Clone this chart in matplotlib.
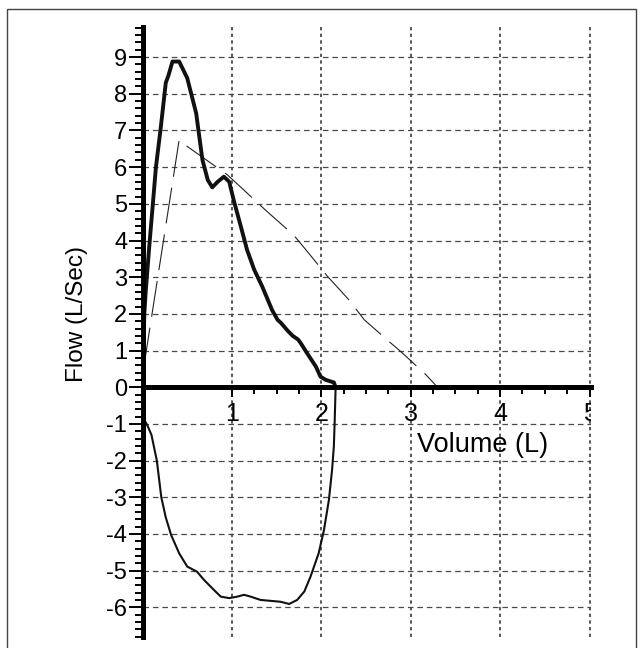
#!/usr/bin/env python3
"""Flow-volume loop: measured expiratory/inspiratory trace vs predicted curve."""

import matplotlib

matplotlib.use("Agg")
import matplotlib.pyplot as plt
from matplotlib.patches import Rectangle
from matplotlib.ticker import FixedLocator, MultipleLocator

plt.rcParams["font.family"] = ["Liberation Sans", "DejaVu Sans"]
plt.rcParams["lines.scale_dashes"] = False
plt.rcParams["axes.unicode_minus"] = False

# measured expiratory limb (L, L/s)
exp_volume = [0.0, 0.01, 0.02, 0.037, 0.074, 0.15, 0.205, 0.26, 0.29, 0.335, 0.41,
              0.50, 0.60, 0.67, 0.73, 0.78, 0.84, 0.91, 0.97, 1.02, 1.10, 1.17,
              1.25, 1.34, 1.45, 1.51, 1.55, 1.62, 1.68, 1.74, 1.77, 1.84, 1.94,
              1.99, 2.05, 2.14, 2.16]
exp_flow = [0.0, 1.0, 2.0, 2.65, 3.8, 6.0, 7.1, 8.3, 8.5, 8.88, 8.88,
            8.43, 7.47, 6.2, 5.65, 5.45, 5.6, 5.74, 5.6, 5.1, 4.38, 3.74,
            3.2, 2.74, 2.1, 1.84, 1.75, 1.55, 1.4, 1.3, 1.2, 0.93, 0.56,
            0.29, 0.2, 0.13, 0.0]

# measured inspiratory limb
insp_volume = [0.0, 0.02, 0.056, 0.10, 0.16, 0.21, 0.26, 0.32, 0.41, 0.50, 0.61, 0.69,
               0.80, 0.875, 0.97, 1.06, 1.135, 1.21, 1.32, 1.545, 1.64, 1.73,
               1.81, 1.88, 1.97, 2.03, 2.085, 2.12, 2.14, 2.15, 2.16]
insp_flow = [-0.5, -0.89, -1.05, -1.3, -2.0, -3.0, -3.55, -4.03, -4.53, -4.89, -5.03, -5.26,
             -5.53, -5.71, -5.75, -5.71, -5.66, -5.71, -5.8, -5.85, -5.91, -5.8,
             -5.57, -5.16, -4.53, -3.89, -3.07, -2.26, -1.62, -0.89, 0.0]

# predicted expiratory curve (dashed)
pred_volume = [0.03, 0.41, 0.48, 0.95, 1.38, 1.69, 1.86, 2.07, 2.31, 2.48, 2.76, 2.89, 3.17, 3.30]
pred_flow = [0.8, 6.75, 6.6, 5.79, 4.82, 4.15, 3.65, 3.02, 2.38, 1.84, 1.24, 0.97, 0.34, 0.0]

x_ticks = [1, 2, 3, 4, 5]
y_ticks = list(range(-6, 10))

fig = plt.figure(figsize=(6.4, 6.48), dpi=100)
ax = fig.add_axes([0.2227, 0.017, 0.6984 * 5.02 / 5, 0.9418])
ax.set_xlim(0, 5.02)
ax.set_ylim(-6.81, 9.83)

# grid
ax.set_xticks(x_ticks)
ax.set_yticks(y_ticks)
ax.xaxis.grid(True, color="#2a2a2a", linewidth=1.1, linestyle=(0, (2.4, 2.4)))
ax.yaxis.grid(True, color="#4a4a4a", linewidth=0.9, linestyle=(0, (4.0, 2.8)))
ax.set_axisbelow(True)

# curves
ax.plot(pred_volume, pred_flow, color="#222222", linewidth=0.8,
        linestyle=(4, (26, 8)), zorder=3)
ax.plot(insp_volume, insp_flow, color="#111111", linewidth=1.5, zorder=4)
ax.plot(exp_volume, exp_flow, color="#111111", linewidth=2.8, zorder=4,
        solid_joinstyle="round")

# axes lines through origin
for side in ["top", "right"]:
    ax.spines[side].set_visible(False)
ax.spines["bottom"].set_position(("data", 0))
ax.spines["left"].set_linewidth(3.6)
ax.spines["bottom"].set_linewidth(3.6)
ax.spines["left"].set_zorder(5)
ax.spines["bottom"].set_zorder(5)

ax.xaxis.set_minor_locator(FixedLocator([v + f for v in range(1, 5) for f in (0.25, 0.5, 0.75)]))
ax.yaxis.set_minor_locator(MultipleLocator(0.2))
ax.tick_params(axis="x", which="major", direction="out", length=7, width=1.4,
               labelbottom=False)
ax.tick_params(axis="x", which="minor", direction="out", length=5, width=1.4)
ax.tick_params(axis="y", which="major", direction="out", length=10, width=1.4,
               pad=1, labelsize=17)
ax.tick_params(axis="y", which="minor", direction="out", length=6, width=1.4)

for v in x_ticks:
    ax.text(v, -0.73, str(v), ha="center", va="center", fontsize=18, clip_on=True)

ax.text(3.8, -1.57, "Volume (L)", ha="center", va="center", fontsize=19.5)
fig.text(77 / 640, 1 - 314 / 648, "Flow (L/Sec)", rotation=90,
         ha="center", va="center", fontsize=17.5)

fig.add_artist(Rectangle((7 / 640, -0.1), (636 - 7) / 640, 1 - 9 / 648 + 0.1,
                         transform=fig.transFigure, fill=False,
                         edgecolor="#444444", linewidth=1.0))

fig.savefig("out.png", dpi=100)
